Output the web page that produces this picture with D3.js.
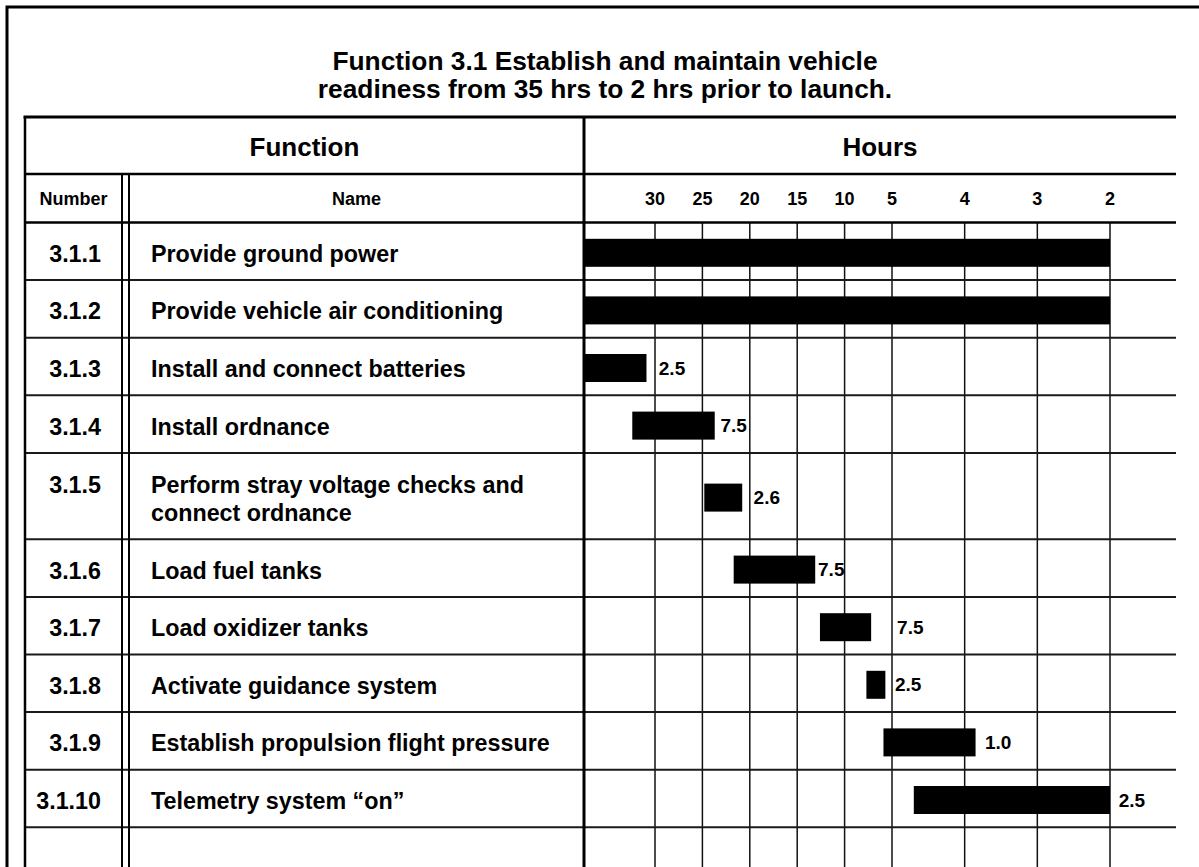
<!DOCTYPE html>
<html>
<head>
<meta charset="utf-8">
<script src="https://cdn.jsdelivr.net/npm/d3@7"></script>
<style>
  html, body { margin: 0; padding: 0; background: #fff; }
  svg { display: block; }
  text { font-family: "Liberation Sans", Arial, sans-serif; font-weight: bold; fill: #000; }
</style>
</head>
<body>
<div id="chart"></div>
<script>
// Chart data
const titleLines = ['Function 3.1 Establish and maintain vehicle', 'readiness from 35 hrs to 2 hrs prior to launch.'];
const numbers = ['3.1.1', '3.1.2', '3.1.3', '3.1.4', '3.1.5', '3.1.6', '3.1.7', '3.1.8', '3.1.9', '3.1.10'];
const names = [
  'Provide ground power',
  'Provide vehicle air conditioning',
  'Install and connect batteries',
  'Install ordnance',
  'Perform stray voltage checks and\nconnect ordnance',
  'Load fuel tanks',
  'Load oxidizer tanks',
  'Activate guidance system',
  'Establish propulsion flight pressure',
  'Telemetry system \u201Con\u201D'
];
// hours before launch at which each bar starts / ends
const startHours = [35, 35, 35, 31.6, 24.8, 21.7, 12.6, 7.7, 5.9, 4.7];
const endHours = [2, 2, 30.6, 23.7, 20.8, 13.1, 7.2, 5.7, 3.85, 2];
const durationLabels = [null, null, '2.5', '7.5', '2.6', '7.5', '7.5', '2.5', '1.0', '2.5'];
const labelAt = [null, null, 29.6, 23.1, 19.6, 12.8, 4.93, 4.96, 3.72, 1.88];
const tickHours = [30, 25, 20, 15, 10, 5, 4, 3, 2];

const width = 1199, height = 867;

const svg = d3.select('#chart').append('svg')
  .attr('width', width)
  .attr('height', height);

// layout
const tableLeft = 25, tableRight = 1176, tableTop = 117;
const headRow1 = 174, headRow2 = 222.5;
const colNumRight = 122, colNameLeft = 129, divider = 584;
const rowUnit = 57.6;

// the time axis is broken into segments: 35-30, 30-5, 5-2
const x = d3.scaleLinear()
  .domain([35, 30, 5, 2])
  .range([divider, 655, 892, 1110]);

const rows = numbers.map((n, i) => ({
  num: n,
  name: names[i].split('\n'),
  start: startHours[i],
  end: endHours[i],
  label: durationLabels[i],
  labelAt: labelAt[i]
}));
let yCursor = headRow2;
rows.forEach(r => {
  r.h = rowUnit * (1 + (r.name.length - 1) * 0.5);
  r.y0 = yCursor;
  r.cy = yCursor + r.h / 2;
  yCursor += r.h;
});

const addText = (g, str, tx, ty, size, anchor = 'middle') => {
  return g.append('text')
    .attr('x', tx)
    .attr('y', ty)
    .attr('text-anchor', anchor)
    .style('font-size', size + 'px')
    .text(str);
};

// outer frame (runs off the right and bottom edges)
svg.append('path')
  .attr('d', `M7,${height + 10}V7H${width + 10}`)
  .attr('fill', 'none')
  .attr('stroke', '#000')
  .attr('stroke-width', 3);

// title
const titleG = svg.append('g');
titleLines.forEach((t, i) => addText(titleG, t, 605, 70 + i * 28, 26.3));

// grid: vertical hour lines
const grid = svg.append('g');
grid.selectAll('line.v')
  .data(tickHours)
  .join('line')
  .attr('class', 'v')
  .attr('x1', d => x(d)).attr('x2', d => x(d))
  .attr('y1', headRow2).attr('y2', height)
  .attr('stroke', '#111')
  .attr('stroke-width', 1.5);

// row separators
grid.selectAll('line.h')
  .data(rows.map(r => r.y0 + r.h))
  .join('line')
  .attr('class', 'h')
  .attr('x1', tableLeft).attr('x2', tableRight)
  .attr('y1', d => d).attr('y2', d => d)
  .attr('stroke', '#1a1a1a')
  .attr('stroke-width', 2);

// bars
const barH = 28;
svg.append('g').selectAll('rect')
  .data(rows)
  .join('rect')
  .attr('x', d => x(d.start))
  .attr('width', d => x(d.end) - x(d.start))
  .attr('y', d => d.cy + 1.5 - barH / 2)
  .attr('height', barH)
  .attr('fill', '#000');

// duration labels
const labG = svg.append('g');
rows.filter(r => r.label).forEach(r => addText(labG, r.label, x(r.labelAt), r.cy + 8, 19, 'start'));

// table frame lines
const frame = svg.append('g').attr('stroke', '#000').attr('fill', 'none');
frame.append('line').attr('x1', tableLeft - 1.5).attr('x2', tableRight).attr('y1', tableTop).attr('y2', tableTop).attr('stroke-width', 3);
frame.append('line').attr('x1', tableLeft).attr('x2', tableRight).attr('y1', headRow1).attr('y2', headRow1).attr('stroke-width', 2.5);
frame.append('line').attr('x1', tableLeft).attr('x2', tableRight).attr('y1', headRow2).attr('y2', headRow2).attr('stroke-width', 2.5);
frame.append('line').attr('x1', tableLeft).attr('x2', tableLeft).attr('y1', tableTop).attr('y2', height).attr('stroke-width', 2.5);
frame.append('line').attr('x1', colNumRight).attr('x2', colNumRight).attr('y1', headRow1).attr('y2', height).attr('stroke-width', 2);
frame.append('line').attr('x1', colNameLeft).attr('x2', colNameLeft).attr('y1', headRow1).attr('y2', height).attr('stroke-width', 2);
frame.append('line').attr('x1', divider).attr('x2', divider).attr('y1', tableTop).attr('y2', height).attr('stroke-width', 3);

// headers
const head = svg.append('g');
addText(head, 'Function', (tableLeft + divider) / 2, 155.5, 26);
addText(head, 'Hours', (divider + tableRight) / 2, 155.5, 26);
addText(head, 'Number', (tableLeft + colNumRight) / 2, 205, 18);
addText(head, 'Name', (colNameLeft + divider) / 2, 205, 18);

// hour tick labels
tickHours.forEach(h => addText(head, String(h), x(h), 205, 18));

// row labels
const body = svg.append('g');
rows.forEach(r => {
  const firstY = r.cy + 10.5 - (r.name.length - 1) * 14;
  addText(body, r.num, 101, firstY, 23.3, 'end');
  r.name.forEach((line, j) => addText(body, line, 151, firstY + j * 28, 23.3, 'start'));
});
</script>
</body>
</html>
